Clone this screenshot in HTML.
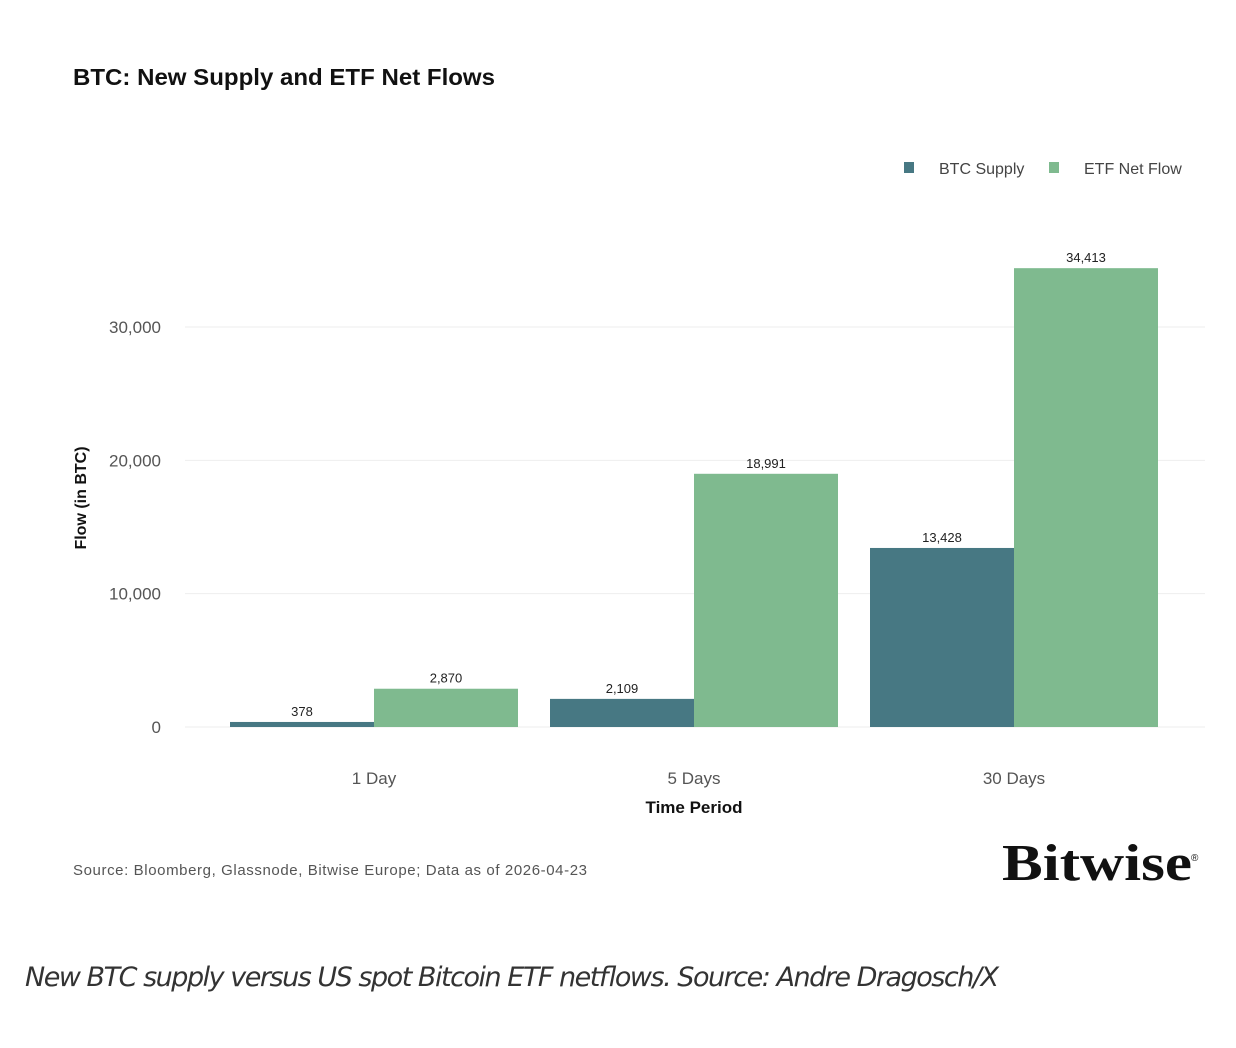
<!DOCTYPE html>
<html><head><meta charset="utf-8"><style>
body{margin:0;background:#fff;}
svg{display:block;font-family:"Liberation Sans",sans-serif;}
</style></head><body>
<svg id="chart" width="1236" height="1048">
<text x="73" y="85" font-size="23" font-weight="bold" fill="#111" textLength="422" lengthAdjust="spacingAndGlyphs">BTC: New Supply and ETF Net Flows</text>
<g>
<rect x="904" y="162" width="10" height="11" fill="#477883"/>
<text x="939" y="174" font-size="16" fill="#444">BTC Supply</text>
<rect x="1049" y="162" width="10" height="11" fill="#7fba8f"/>
<text x="1084" y="174" font-size="16" fill="#444">ETF Net Flow</text>
</g>
<g id="grid"></g>
<g id="bars"></g>
<text transform="translate(86,498) rotate(-90)" text-anchor="middle" font-size="16" font-weight="bold" fill="#111">Flow (in BTC)</text>
<text x="694" y="813" text-anchor="middle" font-size="17" font-weight="bold" fill="#111">Time Period</text>
<text x="73" y="875" font-size="15" fill="#555" textLength="514">Source: Bloomberg, Glassnode, Bitwise Europe; Data as of 2026-04-23</text>
<text x="1002" y="880" font-family="Liberation Serif,serif" font-weight="bold" font-size="52" fill="#111" textLength="190" lengthAdjust="spacingAndGlyphs">Bitwise</text>
<text x="1191" y="861" font-size="10" fill="#111">®</text>
<text x="25" y="986" font-family="DejaVu Sans,sans-serif" font-style="italic" font-size="27" fill="#333" textLength="974">New BTC supply versus US spot Bitcoin ETF netflows. Source: Andre Dragosch/X</text>
</svg>
<script>
const categories=["1 Day","5 Days","30 Days"];
const btcSupply=[378,2109,13428];
const etfNetFlow=[2870,18991,34413];
const yTicks=[0,10000,20000,30000];
const tickLabels=["0","10,000","20,000","30,000"];
const NS="http://www.w3.org/2000/svg";
const y=v=>727-v*0.013333;
const xc=i=>374+i*320;
function mk(t,a,p){const e=document.createElementNS(NS,t);for(const k in a)e.setAttribute(k,a[k]);p.appendChild(e);return e;}
const grid=document.getElementById('grid'),bars=document.getElementById('bars');
yTicks.forEach((v,i)=>{
 const l=mk('line',{x1:185,x2:1205,y1:y(v),y2:y(v),stroke:'#eeeeee','stroke-width':1},grid);
 
 
 const t=mk('text',{x:161,y:y(v)+6,'text-anchor':'end','font-size':17,fill:'#555'},grid);
 t.textContent=tickLabels[i];
 
 
});
const fmt=v=>v.toLocaleString('en-US');
categories.forEach((c,i)=>{
 [[btcSupply[i],-144,'#477883','btc-supply'],[etfNetFlow[i],0,'#7fba8f','etf-net-flow']].forEach(([v,off,col,n])=>{
  const r=mk('rect',{x:xc(i)+off,y:y(v),width:144,height:727-y(v),fill:col},bars);
  
  
  const t=mk('text',{x:xc(i)+off+72,y:y(v)-6,'text-anchor':'middle','font-size':13,fill:'#222'},bars);
  t.textContent=fmt(v);
  
  
 });
 const t=mk('text',{x:xc(i),y:784,'text-anchor':'middle','font-size':17,fill:'#555'},bars);
 t.textContent=c;
 
 
});
</script>
</body></html>
